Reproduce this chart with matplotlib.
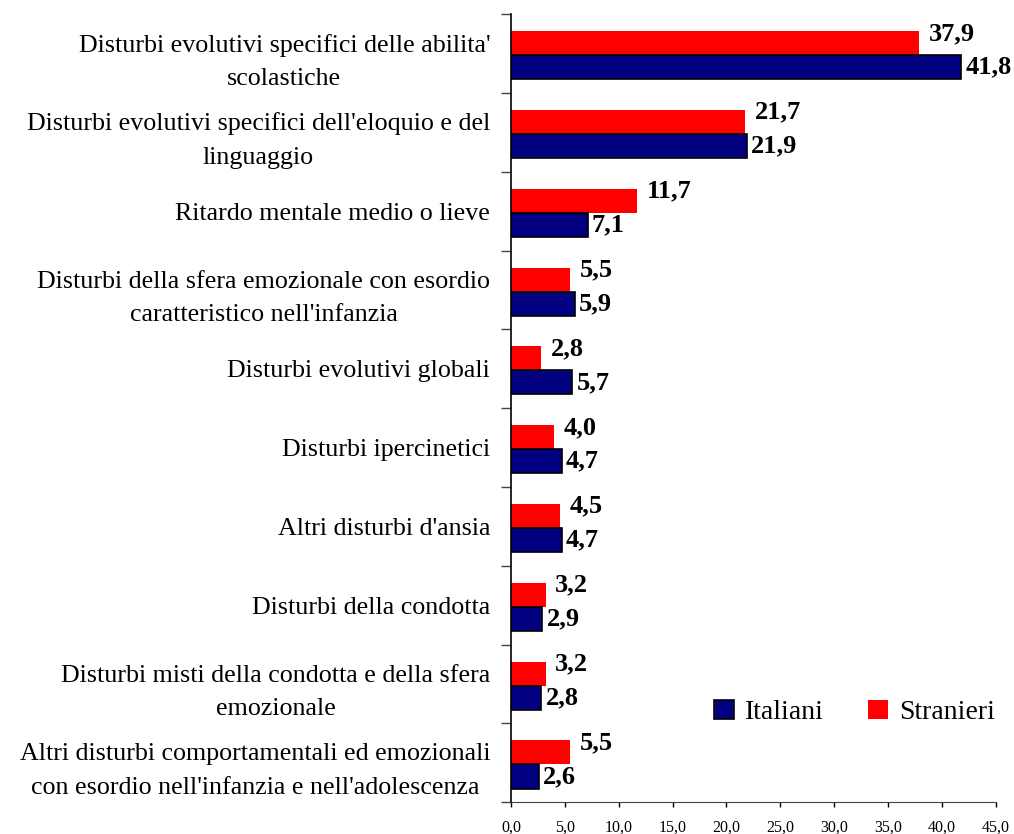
import matplotlib.pyplot as plt
import numpy as np

categorie = [
    "Disturbi evolutivi specifici delle abilita'\nscolastiche",
    "Disturbi evolutivi specifici dell'eloquio e del\nlinguaggio",
    "Ritardo mentale medio o lieve",
    "Disturbi della sfera emozionale con esordio\ncaratteristico nell'infanzia",
    "Disturbi evolutivi globali",
    "Disturbi ipercinetici",
    "Altri disturbi d'ansia",
    "Disturbi della condotta",
    "Disturbi misti della condotta e della sfera\nemozionale",
    "Altri disturbi comportamentali ed emozionali\ncon esordio nell'infanzia e nell'adolescenza",
]
italiani = [41.8, 21.9, 7.1, 5.9, 5.7, 4.7, 4.7, 2.9, 2.8, 2.6]
stranieri = [37.9, 21.7, 11.7, 5.5, 2.8, 4.0, 4.5, 3.2, 3.2, 5.5]
xticks = [0, 5, 10, 15, 20, 25, 30, 35, 40, 45]

plt.rcParams['font.family'] = ['Liberation Serif', 'DejaVu Serif']

fig = plt.figure(figsize=(10.14, 8.34), dpi=100)
ax = fig.add_axes([0.504, 0.038, 0.478, 0.945])

y = np.arange(len(categorie))
h = 0.305
ax.barh(y - h / 2 + 0.02, stranieri, height=h, color='#ff0000', label='Stranieri')
ax.barh(y + h / 2 + 0.02, italiani, height=h, color='#000080', edgecolor='black',
        linewidth=1.2, label='Italiani')

for yi, v in zip(y, stranieri):
    ax.annotate(f"{v:.1f}".replace('.', ','), (v, yi - h / 2 + 0.02), xytext=(7, 7),
                textcoords='offset points', ha='left', va='center',
                fontsize=19, fontweight='bold')
for yi, v in zip(y, italiani):
    ax.annotate(f"{v:.1f}".replace('.', ','), (v, yi + h / 2 + 0.02), xytext=(3, 0),
                textcoords='offset points', ha='left', va='center',
                fontsize=19, fontweight='bold')

ax.set_xlim(0, 45)
ax.set_ylim(len(categorie) - 0.5, -0.5)
ax.set_xticks(xticks)
ax.set_xticklabels([f"{t:.1f}".replace('.', ',') for t in xticks], fontsize=11.5)
ax.tick_params(axis='x', direction='out', length=3.5, width=1, pad=9)

ax.set_yticks(y)
ax.set_yticklabels(categorie, fontsize=18.7, multialignment='center', linespacing=1.7)
ax.tick_params(axis='y', which='major', length=0, pad=15)
ax.set_yticks(np.arange(len(categorie) + 1) - 0.5, minor=True)
ax.tick_params(axis='y', which='minor', length=7, width=1, direction='out', color='#444444')

for s in ['top', 'right']:
    ax.spines[s].set_visible(False)
ax.spines['left'].set_linewidth(1.2)
ax.spines['bottom'].set_color('#444444')

handles, labels = ax.get_legend_handles_labels()
ax.legend(handles[::-1], labels[::-1], loc='center right', bbox_to_anchor=(1.05, 0.114),
          ncol=2, frameon=False, fontsize=20, handlelength=0.7, handleheight=0.7,
          handletextpad=0.4, columnspacing=1.6)

fig.savefig('out.png', dpi=100)
